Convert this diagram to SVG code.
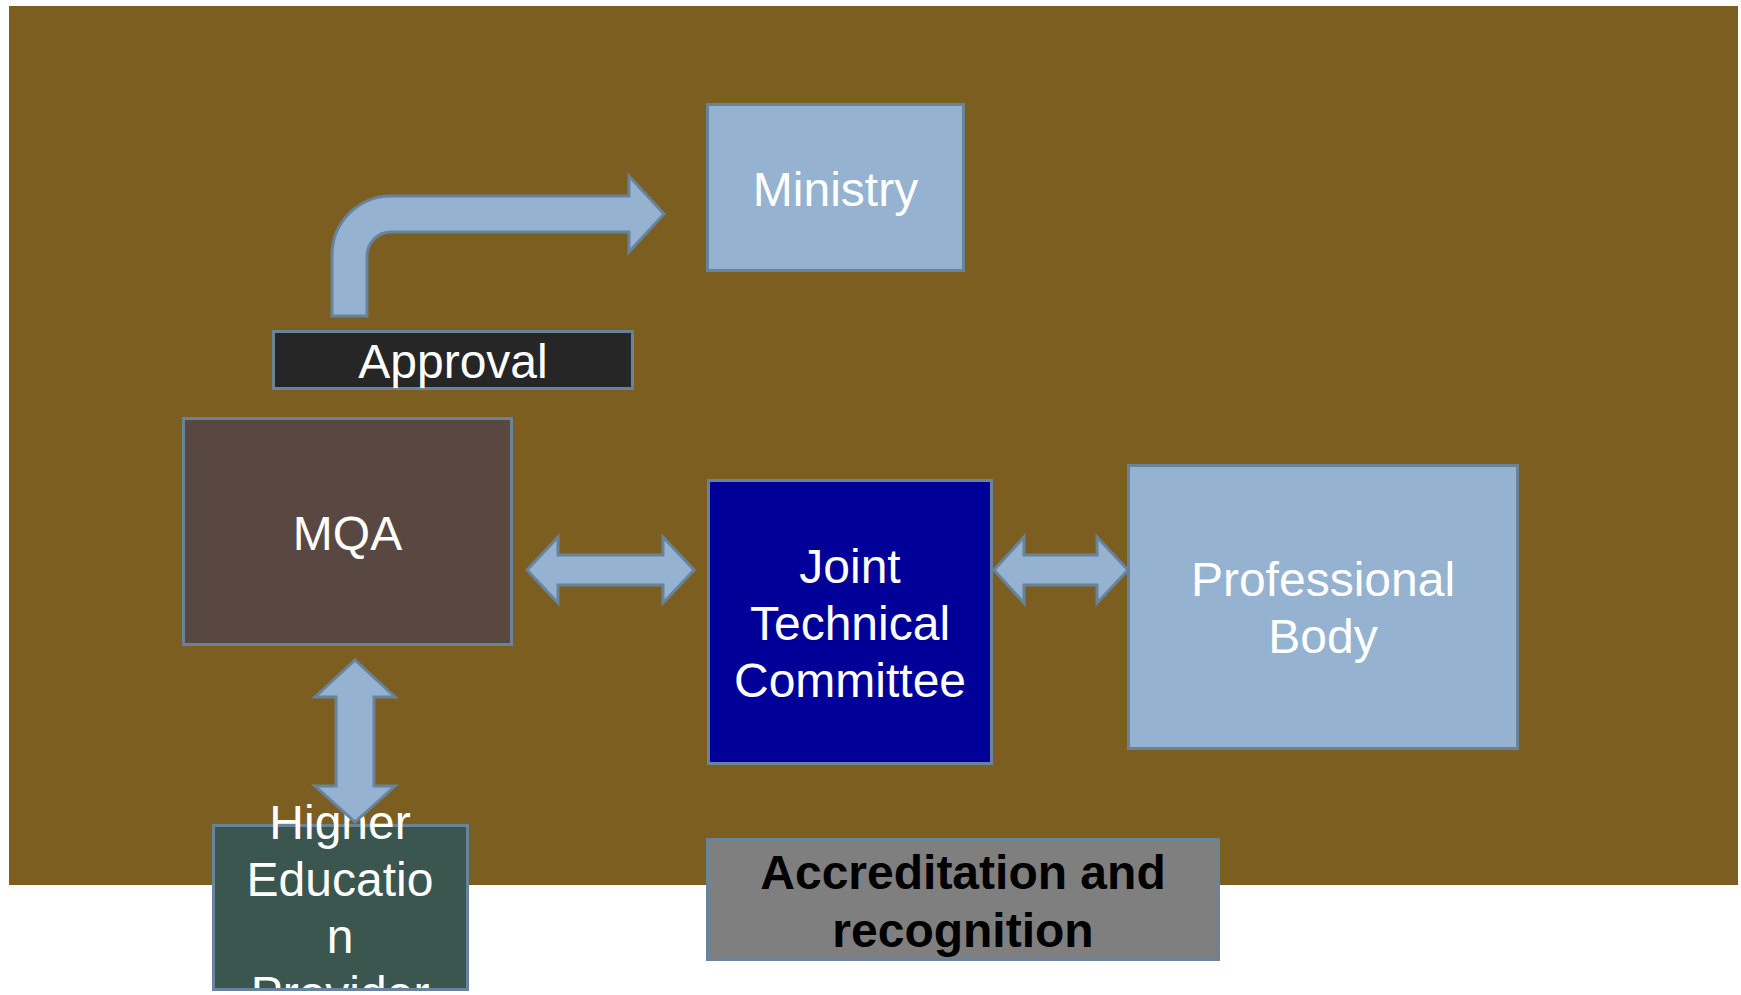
<svg xmlns="http://www.w3.org/2000/svg" width="1741" height="995" viewBox="0 0 1741 995">
<style>
.box{stroke:#68839C;stroke-width:3}
.arr{fill:#95B3D0;stroke:#68839C;stroke-width:3;stroke-linejoin:miter}
.t{font-family:"Liberation Sans",Arial,sans-serif;font-size:48px;fill:#FFFFFF;text-anchor:middle}
.b{font-family:"Liberation Sans",Arial,sans-serif;font-size:48px;font-weight:bold;fill:#000000;text-anchor:middle}
</style>
<defs>
<clipPath id="pageclip"><rect x="0" y="0" width="1741" height="989"/></clipPath>
</defs>
<rect x="0" y="0" width="1741" height="995" fill="#FFFFFF"/>
<rect id="background" x="9" y="6" width="1729" height="879" fill="#7B5E20"/>

<g id="ministry">
<rect class="box" x="707.5" y="104.5" width="256" height="166" fill="#95B3D0"/>
<text class="t" x="835.5" y="206">Ministry</text>
</g>
<g id="approval">
<rect class="box" x="273.5" y="331.5" width="359" height="57" fill="#262626"/>
<text class="t" x="453" y="378">Approval</text>
</g>
<g id="mqa">
<rect class="box" x="183.5" y="418.5" width="328" height="226" fill="#594842"/>
<text class="t" x="347.5" y="550">MQA</text>
</g>
<g id="jtc">
<rect class="box" x="708.5" y="480.5" width="283" height="283" fill="#000099"/>
<text class="t" x="850" y="583">Joint</text>
<text class="t" x="850" y="640">Technical</text>
<text class="t" x="850" y="697">Committee</text>
</g>
<g id="professional-body">
<rect class="box" x="1128.5" y="465.5" width="389" height="283" fill="#95B3D0"/>
<text class="t" x="1323" y="596">Professional</text>
<text class="t" x="1323" y="653">Body</text>
</g>
<g id="hep">
<rect class="box" x="213.5" y="825.5" width="254" height="164" fill="#3B554F"/>
<g clip-path="url(#pageclip)">
<text class="t" x="340" y="839">Higher</text>
<text class="t" x="340" y="896">Educatio</text>
<text class="t" x="340" y="953">n</text>
<text class="t" x="340" y="1010">Provider</text>
</g>
<rect x="212" y="988" width="257" height="3" fill="#68839C"/>
</g>
<g id="accreditation">
<rect class="box" x="707.5" y="839.5" width="511" height="120" fill="#7F7F7F"/>
<text class="b" x="963" y="889">Accreditation and</text>
<text class="b" x="963" y="947">recognition</text>
</g>

<g id="connectors">
<path class="arr" d="M332,316 L332,255 A59,59 0 0 1 391,196 L629,196 L629,176 L664,214 L629,252 L629,232 L391,232 A24,24 0 0 0 367,256 L367,316 Z"/>
<path class="arr" d="M527,570 L558,537 L558,555 L663,555 L663,537 L694,570 L663,603 L663,585 L558,585 L558,603 Z"/>
<path class="arr" d="M994,570 L1024,537 L1024,555 L1097,555 L1097,537 L1128,570 L1097,603 L1097,585 L1024,585 L1024,603 Z"/>
<path class="arr" d="M355,660 L395,697 L374,697 L374,786 L395,786 L355,822 L315,786 L336,786 L336,697 L315,697 Z"/>
</g>
</svg>
